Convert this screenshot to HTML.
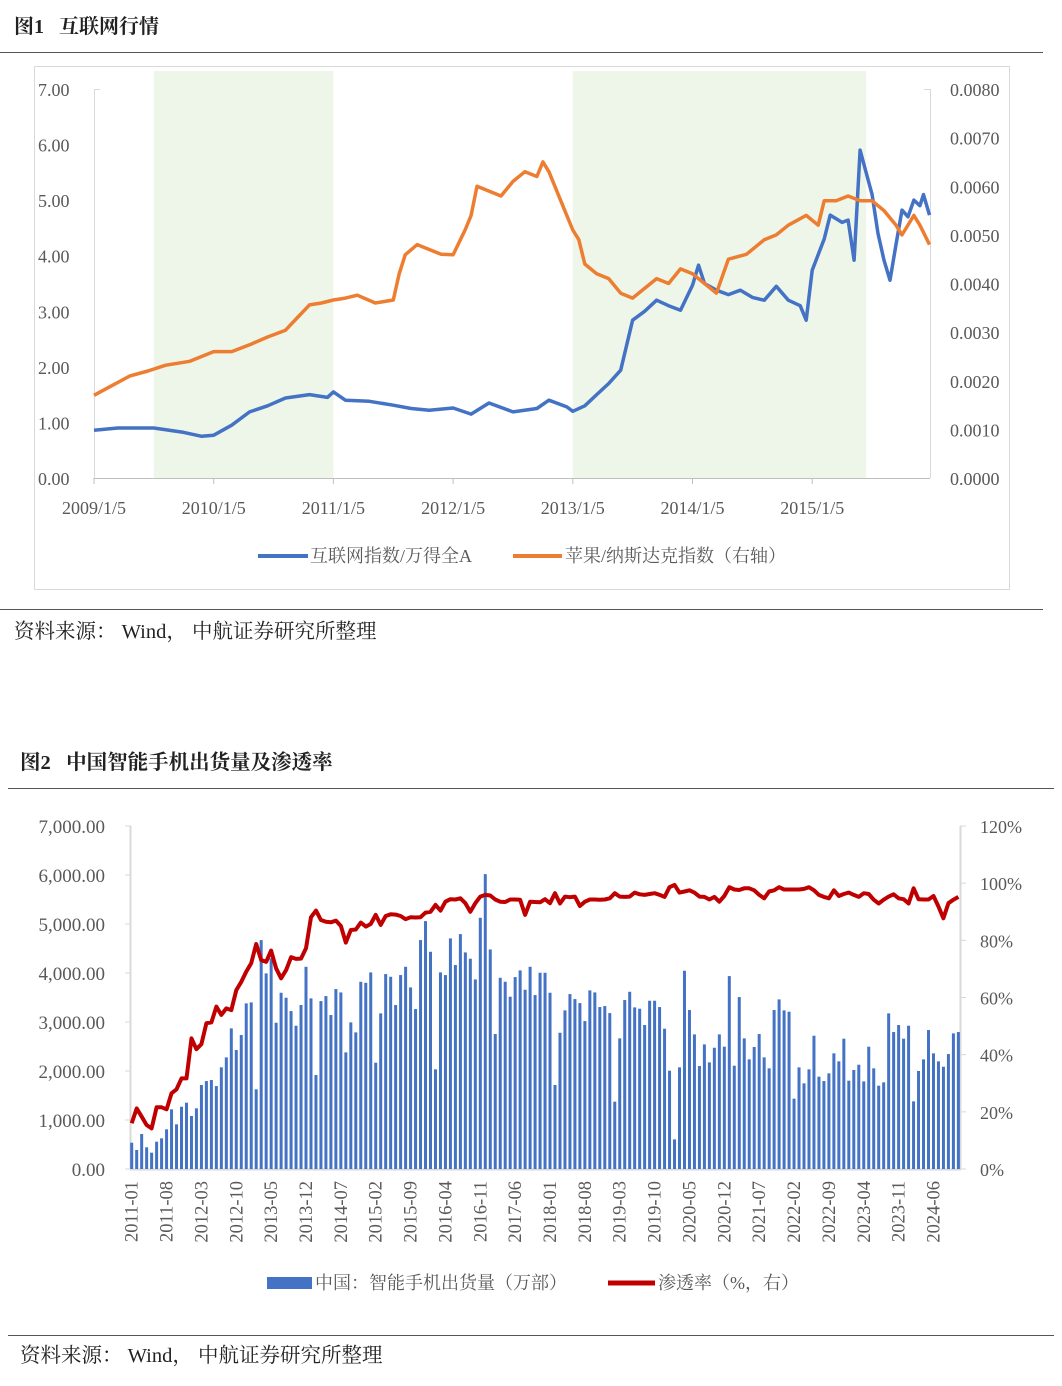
<!DOCTYPE html>
<html><head><meta charset="utf-8">
<style>
body{margin:0;background:#fff;width:1062px;height:1386px;overflow:hidden;font-family:"Liberation Serif","Noto Serif CJK SC",serif;}
svg{position:absolute;left:0;top:0}
</style></head>
<body>
<svg id="s" width="1062" height="1386" xmlns="http://www.w3.org/2000/svg">
<text x="14" y="33" font-size="20" font-weight="bold" fill="#222" xml:space="preserve">图1&#160;&#160;&#160;互联网行情</text>
<line x1="0" y1="52.5" x2="1043" y2="52.5" stroke="#555"/>
<rect x="34.5" y="66.5" width="975" height="523" fill="none" stroke="#d9d9d9"/>
<g id="c1"></g>
<line x1="0" y1="609.5" x2="1043" y2="609.5" stroke="#555"/>
<text x="14" y="638" font-size="20.5" fill="#222" xml:space="preserve">资料来源：&#160;Wind，&#160;中航证券研究所整理</text>

<text x="20" y="769" font-size="20.5" font-weight="bold" fill="#222" xml:space="preserve">图2&#160;&#160;&#160;中国智能手机出货量及渗透率</text>
<line x1="8" y1="788.5" x2="1054" y2="788.5" stroke="#555"/>
<g id="c2"></g>
<line x1="8" y1="1335.5" x2="1054" y2="1335.5" stroke="#555"/>
<text x="20" y="1362" font-size="20.5" fill="#222" xml:space="preserve">资料来源：&#160;Wind，&#160;中航证券研究所整理</text>
</svg>
<script>
// ---------- Chart 1 data ----------
const c1XTicks = ["2009/1/5","2010/1/5","2011/1/5","2012/1/5","2013/1/5","2014/1/5","2015/1/5"];
const c1LeftTicks = ["0.00","1.00","2.00","3.00","4.00","5.00","6.00","7.00"];
const c1RightTicks = ["0.0000","0.0010","0.0020","0.0030","0.0040","0.0050","0.0060","0.0070","0.0080"];
const c1Bands = [[2009.5,2011.0],[2013.0,2015.45]];
const internetT = [2009.0,2009.2,2009.5,2009.75,2009.9,2010.0,2010.15,2010.3,2010.45,2010.6,2010.8,2010.95,2011.0,2011.1,2011.3,2011.5,2011.65,2011.8,2012.0,2012.15,2012.3,2012.5,2012.7,2012.8,2012.95,2013.0,2013.1,2013.2,2013.3,2013.4,2013.5,2013.6,2013.7,2013.8,2013.9,2014.0,2014.05,2014.1,2014.2,2014.3,2014.4,2014.5,2014.6,2014.7,2014.8,2014.9,2014.95,2015.0,2015.1,2015.15,2015.25,2015.3,2015.35,2015.4,2015.45,2015.5,2015.55,2015.6,2015.65,2015.7,2015.75,2015.8,2015.85,2015.9,2015.93,2015.98];
const internetV = [0.86,0.9,0.9,0.82,0.75,0.77,0.95,1.19,1.3,1.44,1.5,1.45,1.55,1.4,1.38,1.31,1.25,1.22,1.26,1.15,1.35,1.19,1.25,1.4,1.28,1.2,1.3,1.5,1.7,1.94,2.84,3.0,3.2,3.1,3.02,3.47,3.83,3.5,3.38,3.3,3.38,3.25,3.2,3.45,3.2,3.1,2.84,3.74,4.3,4.73,4.6,4.64,3.92,5.9,5.5,5.1,4.4,3.92,3.56,4.2,4.82,4.7,5.0,4.9,5.1,4.73];
const appleT = [2009.0,2009.15,2009.3,2009.45,2009.6,2009.8,2010.0,2010.15,2010.3,2010.45,2010.6,2010.7,2010.8,2010.9,2011.0,2011.1,2011.2,2011.35,2011.5,2011.55,2011.6,2011.7,2011.8,2011.9,2012.0,2012.1,2012.15,2012.2,2012.3,2012.4,2012.5,2012.6,2012.7,2012.75,2012.8,2012.9,2013.0,2013.05,2013.1,2013.2,2013.3,2013.4,2013.5,2013.6,2013.7,2013.8,2013.9,2014.0,2014.1,2014.2,2014.3,2014.45,2014.6,2014.7,2014.8,2014.95,2015.05,2015.1,2015.2,2015.3,2015.4,2015.5,2015.6,2015.7,2015.75,2015.85,2015.9,2015.98];
const appleV = [0.0017,0.0019,0.0021,0.0022,0.00232,0.0024,0.0026,0.0026,0.00274,0.0029,0.00304,0.0033,0.00356,0.0036,0.00366,0.0037,0.00376,0.0036,0.00366,0.0042,0.00459,0.0048,0.0047,0.0046,0.00459,0.0051,0.0054,0.006,0.0059,0.0058,0.0061,0.0063,0.0062,0.0065,0.0063,0.0057,0.0051,0.0049,0.0044,0.0042,0.0041,0.0038,0.0037,0.0039,0.0041,0.0040,0.0043,0.0042,0.0040,0.0038,0.0045,0.0046,0.0049,0.0050,0.0052,0.0054,0.0052,0.0057,0.0057,0.0058,0.0057,0.0057,0.0055,0.0052,0.0050,0.0054,0.0052,0.0048];

// ---------- Chart 2 data ----------
const c2LeftTicks = ["0.00","1,000.00","2,000.00","3,000.00","4,000.00","5,000.00","6,000.00","7,000.00"];
const c2RightTicks = ["0%","20%","40%","60%","80%","100%","120%"];
const c2StartYear = 2011, c2StartMonth = 1;
const shipments = [537,388,714,443,333,557,626,810,1218,912,1271,1353,1081,1238,1714,1795,1816,1693,2075,2278,2870,2428,2734,3380,3400,1626,4672,3992,4298,2985,3597,3495,3223,2924,3346,4127,3482,1918,3427,3529,3142,3672,3604,2380,2992,2788,3821,3800,4012,2169,3176,3978,3923,3346,3958,4127,3706,3264,4672,5059,4433,2034,4012,3958,4706,4162,4794,4420,4291,3869,5127,6018,4481,2754,3903,3821,3516,3917,4053,3658,4127,3550,4005,4005,3597,1714,2781,3237,3570,3468,3386,3019,3645,3604,3305,3325,3182,1374,2666,3448,3617,3298,3271,2938,3434,3434,3305,2863,2006,605,2074,4046,3244,2747,2101,2543,2176,2475,2747,2496,3937,2108,3509,2666,2237,2489,2754,2278,2054,3244,3461,3237,3210,1435,2074,1748,2034,2720,1884,1795,1952,2360,2197,2659,1802,2020,2128,1788,2496,2054,1700,1768,3176,2795,2938,2659,2924,1380,2000,2237,2836,2360,2197,2087,2346,2768,2795];
const penetration = [16.0,21.2,18.3,15.4,14.2,21.6,21.6,20.9,26.5,27.9,31.7,31.7,45.7,41.9,43.7,51.0,51.3,56.8,53.9,56.2,55.6,62.6,65.5,69.0,72.0,78.7,73.1,72.5,76.4,70.2,66.7,69.6,74.1,73.5,73.6,77.2,88.1,90.4,87.1,86.5,86.3,86.9,85.0,79.2,83.6,83.8,86.2,84.8,85.7,88.9,85.4,88.5,89.1,89.0,88.5,87.4,88.1,88.0,88.1,89.7,90.0,92.4,90.4,93.5,94.4,94.3,94.7,93.0,90.0,93.0,95.3,95.9,95.7,94.3,93.5,93.4,94.3,94.3,94.2,88.9,93.5,93.4,93.3,94.4,93.0,96.5,92.9,95.3,95.1,95.3,92.0,93.5,94.3,94.3,94.2,94.3,94.7,96.5,95.3,95.2,95.3,96.7,96.1,95.9,96.2,96.5,95.9,95.2,98.6,99.4,96.7,97.1,97.5,96.7,95.3,95.2,94.3,95.2,93.5,95.5,98.6,97.8,97.6,98.2,98.2,97.5,95.9,94.7,97.1,97.5,98.6,97.8,97.8,97.8,97.8,98.0,98.6,97.5,95.9,95.2,94.7,97.5,95.5,96.2,96.7,95.9,95.2,96.5,96.2,94.2,92.9,94.2,95.3,96.1,94.7,94.4,92.9,98.2,94.4,94.3,94.3,95.5,91.8,87.7,93.0,94.2,95.2];

const NS="http://www.w3.org/2000/svg";
function mk(parent,tag,attrs,text){const e=document.createElementNS(NS,tag);for(const k in attrs)e.setAttribute(k,attrs[k]);if(text!==undefined)e.textContent=text;parent.appendChild(e);return e;}

// ---------- Chart 1 ----------
(function(){
const g=document.getElementById('c1');
const X0=94,X1=930,T0=2009.0,PXY=119.7;
const x=t=>X0+(t-T0)*PXY;
const yL=v=>478-v*(389/7);
const yR=v=>478-v*(389/0.008);
for(const b of c1Bands){
  const r=mk(g,'rect',{x:x(b[0]),y:71,width:x(b[1])-x(b[0]),height:407,fill:'#eef6ea'});
  
  
}
mk(g,'line',{x1:X0,y1:478.5,x2:X1,y2:478.5,stroke:'#bfbfbf'});
mk(g,'line',{x1:X0+.5,y1:89,x2:X0+.5,y2:478,stroke:'#d9d9d9'});
mk(g,'line',{x1:X0,y1:89.5,x2:X0+6,y2:89.5,stroke:'#d9d9d9'});
mk(g,'line',{x1:X1+.5,y1:89,x2:X1+.5,y2:478,stroke:'#d9d9d9'});
mk(g,'line',{x1:X1-6,y1:89.5,x2:X1,y2:89.5,stroke:'#d9d9d9'});
c1LeftTicks.forEach((s,i)=>{
  const t=mk(g,'text',{x:38,y:yL(i)+7,'font-size':18,fill:'#595959'},s);
  
  
});
c1RightTicks.forEach((s,i)=>{
  const t=mk(g,'text',{x:950,y:yR(i*0.001)+7,'font-size':18,fill:'#595959'},s);
  
  
});
c1XTicks.forEach((s,i)=>{
  const xx=x(2009+i);
  mk(g,'line',{x1:xx,y1:478,x2:xx,y2:484,stroke:'#bfbfbf'});
  const t=mk(g,'text',{x:xx,y:514,'font-size':18,fill:'#595959','text-anchor':'middle'},s);
  
  
});
const p1=internetT.map((t,i)=>x(t).toFixed(1)+','+yL(internetV[i]).toFixed(1)).join(' ');
const l1=mk(g,'polyline',{points:p1,fill:'none',stroke:'#4472C4','stroke-width':3.5,'stroke-linejoin':'round'});


const p2=appleT.map((t,i)=>x(t).toFixed(1)+','+yR(appleV[i]).toFixed(1)).join(' ');
const l2=mk(g,'polyline',{points:p2,fill:'none',stroke:'#ED7D31','stroke-width':3.5,'stroke-linejoin':'round'});


const lg1=mk(g,'g',{});


mk(lg1,'line',{x1:258,y1:556,x2:308,y2:556,stroke:'#4472C4','stroke-width':4});
mk(lg1,'text',{x:310,y:562,'font-size':18,fill:'#595959'},'互联网指数/万得全A');
const lg2=mk(g,'g',{});


mk(lg2,'line',{x1:513,y1:556,x2:562,y2:556,stroke:'#ED7D31','stroke-width':4});
mk(lg2,'text',{x:565,y:562,'font-size':18,fill:'#595959'},'苹果/纳斯达克指数（右轴）');
})();

// ---------- Chart 2 ----------
(function(){
const g=document.getElementById('c2');
const B0=131.7,STEP=4.98;
const x=i=>B0+i*STEP;
const yL=v=>1169-v*(343/7000);
const yR=v=>1169-v*(343/120);
mk(g,'line',{x1:130.5,y1:826,x2:130.5,y2:1169,stroke:'#d9d9d9','stroke-width':2});
mk(g,'line',{x1:960.5,y1:826,x2:960.5,y2:1169,stroke:'#d9d9d9','stroke-width':2});
mk(g,'line',{x1:130,y1:1169.5,x2:961,y2:1169.5,stroke:'#d9d9d9','stroke-width':2});
c2LeftTicks.forEach((s,i)=>{
  const yy=yL(i*1000);
  mk(g,'line',{x1:125,y1:yy,x2:131,y2:yy,stroke:'#d9d9d9'});
  const t=mk(g,'text',{x:105,y:yy+7,'font-size':19,fill:'#595959','text-anchor':'end'},s);
  
  
});
c2RightTicks.forEach((s,i)=>{
  const yy=yR(i*20);
  mk(g,'line',{x1:960,y1:yy,x2:966,y2:yy,stroke:'#d9d9d9'});
  const t=mk(g,'text',{x:980,y:yy+7,'font-size':18,fill:'#595959'},s);
  
  
});
shipments.forEach((v,i)=>{
  const r=mk(g,'rect',{x:x(i)-1.5,y:yL(v),width:3,height:1169-yL(v),fill:'#4472C4'});
  
  
});
for(let i=0;i<shipments.length;i+=7){
  const m0=c2StartMonth-1+i, yr=c2StartYear+Math.floor(m0/12), mo=(m0%12)+1;
  const lab=yr+'-'+(mo<10?'0':'')+mo;
  const t=mk(g,'text',{x:0,y:0,'font-size':18.5,fill:'#595959','text-anchor':'end',transform:'translate('+(x(i)+6)+',1181) rotate(-90)'},lab);
  
  
}
const pts=penetration.map((v,i)=>x(i).toFixed(1)+','+yR(v).toFixed(1)).join(' ');
const l=mk(g,'polyline',{points:pts,fill:'none',stroke:'#C00000','stroke-width':4,'stroke-linejoin':'round'});


const lg1=mk(g,'g',{});


mk(lg1,'rect',{x:267,y:1277,width:45,height:12,fill:'#4472C4'});
mk(lg1,'text',{x:315,y:1289,'font-size':18,fill:'#595959'},'中国：智能手机出货量（万部）');
const lg2=mk(g,'g',{});


mk(lg2,'line',{x1:608,y1:1283,x2:655,y2:1283,stroke:'#C00000','stroke-width':5});
mk(lg2,'text',{x:658,y:1289,'font-size':18,fill:'#595959'},'渗透率（%，右）');
})();
</script>
</body></html>
